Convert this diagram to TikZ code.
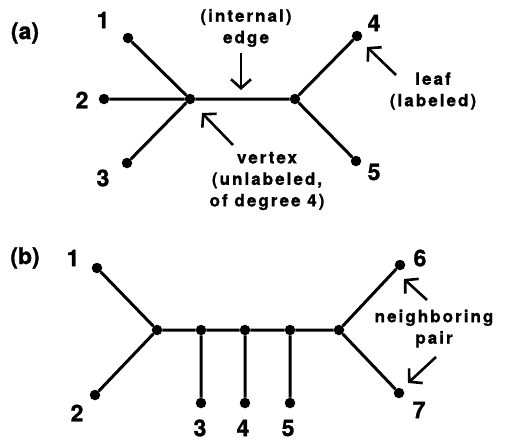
\documentclass[tikz,border=0pt]{standalone}
\usepackage{fontspec}
\setmainfont{TeX Gyre Heros}[BoldFeatures={FakeBold=1.2}]
\newfontfamily\lblfont{TeX Gyre Heros}[LetterSpace=12,BoldFeatures={FakeBold=1.2,LetterSpace=12}]
\usetikzlibrary{arrows.meta}
\begin{document}
\begin{tikzpicture}[x=1pt,y=-1pt,
  dot/.style={circle,fill=black,inner sep=0pt,minimum size=10.5pt},
  edge/.style={line width=3pt},
  num/.style={font=\fontsize{23}{23}\selectfont\bfseries, inner sep=0pt},
  lbl/.style={font=\fontsize{17}{21.5}\lblfont\bfseries, align=center, inner sep=0pt},
  pointer/.style={line width=2.6pt, -{Straight Barb[length=9pt,width=20pt]}}]
\useasboundingbox (0,0) rectangle (505,440);
% ---------- panel (a)
\node[num] (pa) at (25,33) {(a)};
\node[dot] (a1) at (128,38) {};
\node[dot] (a2) at (104,99) {};
\node[dot] (a3) at (127,163) {};
\node[dot] (av) at (190,99) {};
\node[dot] (aw) at (295,99) {};
\node[dot] (a4) at (357,36) {};
\node[dot] (a5) at (356,161) {};
\draw[edge] (a1) -- (av) (a2) -- (av) (a3) -- (av) (av) -- (aw) (aw) -- (a4) (aw) -- (a5);
\node[num] (t1) at (103,20) {1};
\node[num] (t2) at (82,100) {2};
\node[num] (t3) at (103,178) {3};
\node[num] (t4) at (374,23) {4};
\node[num] (t5) at (374,172) {5};
\node[lbl] (ie) at (246,28) {(internal)\\edge};
\node[lbl] (vx) at (267,181) {vertex\\(unlabeled,\\of degree 4)};
\node[lbl] (lf) at (433,91) {leaf\\(labeled)};
\coordinate (e1) at (241,53); \coordinate (e2) at (241,90);
\coordinate (v1) at (233,145); \coordinate (v2) at (202,113);
\coordinate (l1) at (396,75); \coordinate (l2) at (367,47);
\draw[pointer] (e1) -- (e2);
\draw[pointer] (v1) -- (v2);
\draw[pointer] (l1) -- (l2);
% ---------- panel (b)
\node[num] (pb) at (25,258) {(b)};
\node[dot] (b1) at (97,268) {};
\node[dot] (b2) at (95,395) {};
\node[dot] (bu) at (157,330) {};
\node[dot] (bx) at (201,330) {};
\node[dot] (by) at (245,330) {};
\node[dot] (bz) at (290,330) {};
\node[dot] (bw) at (339,330) {};
\node[dot] (b3) at (201,403) {};
\node[dot] (b4) at (245,403) {};
\node[dot] (b5) at (290,403) {};
\node[dot] (b6) at (400,265) {};
\node[dot] (b7) at (399,393) {};
\draw[edge] (b1) -- (bu) (b2) -- (bu) (bu) -- (bx) -- (by) -- (bz) -- (bw)
  (bx) -- (b3) (by) -- (b4) (bz) -- (b5) (bw) -- (b6) (bw) -- (b7);
\node[num] (s1) at (73,258) {1};
\node[num] (s2) at (77,413) {2};
\node[num] (s3) at (200,428) {3};
\node[num] (s4) at (243,428) {4};
\node[num] (s5) at (288,428) {5};
\node[num] (s6) at (420,258) {6};
\node[num] (s7) at (419,410) {7};
\node[lbl] (np) at (434,328.5) {neighboring\\pair};
\coordinate (n1) at (427,300); \coordinate (n2) at (404,279);
\coordinate (m1) at (436,357); \coordinate (m2) at (408,383);
\draw[pointer] (n1) -- (n2);
\draw[pointer] (m1) -- (m2);
\end{tikzpicture}
\end{document}
